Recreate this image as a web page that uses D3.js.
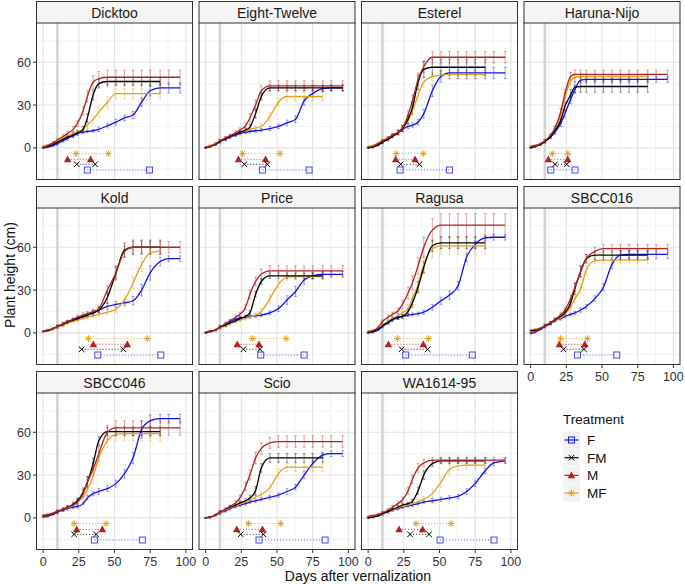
<!DOCTYPE html>
<html><head><meta charset="utf-8">
<script src="https://cdn.jsdelivr.net/npm/d3@7"></script>
<style>body{margin:0;background:#fff}svg{display:block;font-family:"Liberation Sans",Arial,sans-serif}</style>
</head><body><svg id="c" width="685" height="584"></svg>
<script>
// ---------- DATA ----------
const cultivars = ["Dicktoo","Eight-Twelve","Esterel","Haruna-Nijo","Kold","Price","Ragusa","SBCC016","SBCC046","Scio","WA1614-95"];
const treatments = ["F","FM","M","MF"];
const days = [0,3,7,10,14,17,21,24,28,31,35,39,45,51,57,63,69,75,82,88,96];
const xTicks = [0,25,50,75,100];
const yTicks = [0,30,60];
const vernalizationDay = 10;

const heightM = [
 [0.5,1.5,3.5,5.5,8,10,13,17,26,36,46,48.5,49.5,49.5,49.5,49.5,49.5,49.5,49.5,49.5,49.5],
 [0.5,1,3,5,7,8.5,10.5,12.5,15.5,21,30,40,43.5,43.5,43.5,43.5,43.5,43.5,43.5,43.5,43.5],
 [0.5,1,3,5,7,9,11,14,23,33,48,57,63.5,63.5,63.5,63.5,63.5,63.5,63.5,63.5,63.5],
 [1,1.5,3,5,9,14,25,38,50,51.5,51.5,51.5,51.5,51.5,51.5,51.5,51.5,51.5,51.5,51.5,51.5],
 [1,2,3,4.5,6.5,8,9.5,11,12.5,13.5,15,17,30,42,57,60,60,60,60,60,60],
 [0.5,1,2,4,6.5,8.5,11,13,18,27,36,41,43.5,43.5,43.5,43.5,43.5,43.5,43.5,43.5,43.5],
 [1,1.5,4,8,11,13,15.5,20,28,35,47,60,72,75.5,75.5,75.5,75.5,75.5,75.5,75.5,75.5],
 [0,1,3,5,7,9.5,12.5,16,24,32,43,52,57,59,59,59,59,59,59,59,59],
 [1,1.5,3,4.5,6,7.5,9,11,17,25,34,45,60,63,63,63,63,63,63,63,63],
 [0,0.5,2,4,6,8,10.5,14,22,30,42,48.5,52.5,53.5,53.5,53.5,53.5,53.5,53.5,53.5,53.5],
 [1,1.5,2.5,3.5,5.5,7.5,10,12.5,19,27,35,38.5,40.5,40.5,40.5,40.5,40.5,40.5,40.5,40.5,40.5]
];
const errM = [
 [0.3,0.5,1,1,1.5,1.5,2,2,3,4,4.5,5,5,5,5,5,5,5,5,5,5],
 [0.3,0.5,0.5,1,1,1,1.5,1.5,2,3,3.5,3.5,3.5,3.5,3.5,3.5,3.5,3.5,3.5,3.5,3.5],
 [0.3,0.5,0.5,1,1,1,1.5,2,3,4,4.5,4,4,4,4,4,4,4,4,4,4],
 [0.3,0.5,0.5,1,1,1.5,2.5,3,3,3,3,3,3,3,3,3,3,3,3,3,3],
 [0.3,0.5,0.5,1,1,1,1,1.5,1.5,1.5,1.5,2,3,4,4,4,4,4,4,4,4],
 [0.3,0.5,0.5,1,1,1,1.5,1.5,2,3,3,3.5,3.5,3.5,3.5,3.5,3.5,3.5,3.5,3.5,3.5],
 [0.3,0.5,1,1,1.5,1.5,2,3,4,5,6,7,8,8,8,8,8,8,8,8,8],
 [0.3,0.5,0.5,1,1,1,1.5,2,2.5,3,3.5,3,3,3,3,3,3,3,3,3,3],
 [0.3,0.5,0.5,1,1,1,1.5,2,3,4,5,5,5,5,5,5,5,5,5,5,5],
 [0.3,0.5,0.5,1,1,1,1.5,2,3,3.5,4,4,4,4,4,4,4,4,4,4,4],
 [0.3,0.5,0.5,1,1,1,1.5,2,2.5,3,3,2.5,2,2,2,2,2,2,2,2,2]
];
const heightFM = [
 [0,1,2.5,4,6,7.5,9,10.5,13,21,37,45,46.5,46.5,46.5,46.5,46.5,46.5,46.5,null,null],
 [0,1,2.5,4.5,6.5,8,9.5,11,12.5,14.5,24,36,42,42,42,42,42,42,42,42,42],
 [0,0.5,2,4,6,8,10.5,13.5,20,28,46,55,56.5,56.5,56.5,56.5,56.5,56.5,56.5,null,null],
 [0,1,2.5,4.5,8,12,19,29,37,42.5,43,43,43,43,43,43,43,43,43,null,null],
 [1,1.5,3,4.5,6,7.5,9,10,11.5,12.5,14,16,25,42,58,60,60,60,60,null,null],
 [0,1,2,4,5.5,7,8.5,10,11.5,14,27,36,40,40,40,40,40,40,40,null,null],
 [0,1,2.5,5,7.5,9.5,11,11.5,15,21,32,46,61,63,63,63,63,63,63,null,null],
 [1.5,2,3,5,7,9,11.5,14,21,31,43,52,54.5,54.5,54.5,54.5,54.5,54.5,54.5,null,null],
 [1.5,2,3,4.5,6,7.5,9.5,12,18,25,38,54,60.5,60.5,60.5,60.5,60.5,60.5,60.5,null,null],
 [0,0.5,2,4,6,7.5,9,10.5,12,14,19,35,42,42,42,42,42,42,42,null,null],
 [0,0.5,1.5,3,4.5,6,7.5,9,10,11.5,19,30,38,40,40,40,40,40,40,null,null]
];
const errFM = [
 [0.3,0.5,0.5,1,1,1,1.5,1.5,2,3,3.5,3,3,3,3,3,3,3,3,null,null],
 [0.3,0.5,0.5,1,1,1,1,1,1.5,2,3,2.5,2,2,2,2,2,2,2,2,2],
 [0.3,0.5,0.5,1,1,1,1.5,2,3,4,5,5.5,5.5,5.5,5.5,5.5,5.5,5.5,5.5,null,null],
 [0.3,0.5,0.5,1,1,1.5,2,3,4,4,4,4,4,4,4,4,4,4,4,null,null],
 [0.3,0.5,0.5,1,1,1,1,1,1,1.5,1.5,2,4,5,5,5,5,5,5,null,null],
 [0.3,0.5,0.5,1,1,1,1,1,1,1.5,2,2,2,2,2,2,2,2,2,null,null],
 [0.3,0.5,0.5,1,1,1,1.5,1.5,2,3,4,4,4,4,4,4,4,4,4,null,null],
 [0.3,0.5,0.5,1,1,1,1.5,2,3,4,4,3,3,3,3,3,3,3,3,null,null],
 [0.3,0.5,0.5,1,1,1,1.5,2,3,4,4,3,3,3,3,3,3,3,3,null,null],
 [0.3,0.5,0.5,1,1,1,1,1,1.5,2,3,3,3,3,3,3,3,3,3,null,null],
 [0.3,0.5,0.5,1,1,1,1,1,1,1.5,2.5,3,2,2,2,2,2,2,2,null,null]
];
const heightMF = [
 [1.5,2,3.5,5,7,8.5,10,11,13,16,20,25,32,38,38,38,38,38,38,null,null],
 [0.5,1.5,3,5,6.5,8,9.5,11,12,13,14,15,22,32,36,36,36,36,36,null,null],
 [1,1.5,3.5,5,7,9,11,13.5,19,26,37,46,50,51,51.5,51.5,51.5,51.5,51.5,null,null],
 [1,1.5,3,5,8.5,13,22,35,47,49.5,50,50,50,50,50,50,50,50,50,null,null],
 [1,1.5,2.5,4,5.5,7,8,9,10,11,12,13,14.5,16.5,23,35,48,56,57.5,null,null],
 [0,1,2,3.5,5,6.5,8,9,10,11,12.5,15,24,34,39,39.5,39.5,39.5,39.5,null,null],
 [1,1.5,3,5.5,8,10,12,14,17,24,34,48,59,61,61,61,61,61,61,null,null],
 [2,2.5,3.5,5,7,8.5,10.5,13,18,24,31,44,50.5,51,51,51,51,51,51,null,null],
 [2,2.5,3.5,4.5,6,7,8.5,11,15,20,29,42,54,58.5,59,59,59,59,59,null,null],
 [0,0.5,2,3.5,5.5,7,8.5,9.5,11,12.5,14.5,16.5,21,31,35.5,35.5,35.5,35.5,35.5,null,null],
 [0.5,1,2,3,4.5,5.5,7,8,9,10,11.5,13,17,25,34,36.5,37,37,37,null,null]
];
const errMF = [
 [0.3,0.5,1,1,1,1.5,1.5,2,2,2.5,3,3.5,4,3.5,3.5,3.5,3.5,3.5,3.5,null,null],
 [0.3,0.5,0.5,1,1,1,1,1,1,1.5,1.5,2,3,3,3,3,3,3,3,null,null],
 [0.3,0.5,0.5,1,1,1,1.5,2,3,3.5,4,3.5,3,3,3,3,3,3,3,null,null],
 [0.3,0.5,0.5,1,1,1.5,2,3,3,2.5,2,2,2,2,2,2,2,2,2,null,null],
 [0.3,0.5,0.5,1,1,1,1,1,1,1,1,1.5,1.5,2,3,4,5,3,2,null,null],
 [0.3,0.5,0.5,1,1,1,1,1,1,1,1.5,2,3,2.5,2,2,2,2,2,null,null],
 [0.3,0.5,0.5,1,1,1,1.5,2,3,4,5,6,6,6,6,6,6,6,6,null,null],
 [0.3,0.5,0.5,1,1,1,1.5,2,2.5,3,3.5,3,2,2,2,2,2,2,2,null,null],
 [0.3,0.5,0.5,1,1,1,1.5,2,3,4,5,5,5,5,5,5,5,5,5,null,null],
 [0.3,0.5,0.5,1,1,1,1,1,1,1.5,1.5,2,3,3.5,3,3,3,3,3,null,null],
 [0.3,0.5,0.5,1,1,1,1,1,1,1,1.5,2,3,3.5,3,3,3,3,3,null,null]
];
const heightF = [
 [0,0.5,1.5,3,5,6.5,8.5,10,11,11.5,12,13,15.5,18,21,23,32,40,42,42,42],
 [0,1,2.5,4.5,6,7.5,9,10,11,11.5,12,12.5,13.5,15,17.5,20,33,38,41.5,42,42],
 [0,0.5,2,4,6.5,8.5,11,13,15,16,18,24,40,50,52.5,52.5,52.5,52.5,52.5,52.5,52.5],
 [0,1,2.5,4.5,7.5,11,17,24,34,41,47.5,48,48,48,48,48,48,48,48,48,48],
 [1,1.5,3,4.5,6,7.5,9,10,11.5,12.5,14,16,18.5,20,21,22.5,30,42,50,52,52],
 [0,1,2,4,6,8,9.5,10.5,11,11.5,12,12.5,14,17,23,29,37,40,41,41,41],
 [0,0.5,2,4.5,7,9,10.5,11.5,12.5,13,13.5,14.5,18,22.5,26.5,33,53,62,66.5,67,67],
 [-0.5,0.5,2.5,4.5,6.5,8.5,10,11.5,13,14,16,18.5,24,32,48,54.5,55,55,55,55,55],
 [0.5,1,2.5,4,5.5,6.5,7.5,8,10,14,17,18.5,20.5,24,31,42,62,68,69.5,69.5,69.5],
 [0,0.5,2,3.5,5,6.5,8,9,10,11,12,13,14.5,16,18.5,21.5,30,38,44,45,45],
 [0,0.5,1.5,3,4.5,5.5,6.5,7.5,8.5,9,10,11,12,13,14,15,18.5,24,33,38.5,40]
];
const errF = [
 [0.3,0.5,0.5,1,1,1,1,1,1,1,1,1.5,1.5,2,2,2.5,3,3.5,3.5,3.5,3.5],
 [0.3,0.5,0.5,1,1,1,1,1,1,1,1,1,1.5,1.5,2,2.5,3,2.5,2,2,2],
 [0.3,0.5,0.5,1,1,1,1.5,1.5,1.5,1.5,2,3,4,4,4,4,4,4,4,4,4],
 [0.3,0.5,0.5,1,1,1.5,2,2.5,3,2.5,2,2,2,2,2,2,2,2,2,2,2],
 [0.3,0.5,0.5,1,1,1,1,1,1,1,1.5,1.5,2,2,2,3,4,5,3,2,2],
 [0.3,0.5,0.5,1,1,1,1,1,1,1,1,1,1.5,2,3,3.5,3,2,2,2,2],
 [0.3,0.5,0.5,1,1,1,1,1,1,1,1,1.5,2,2.5,3,3,3,2.5,2,2,2],
 [0.3,0.5,0.5,1,1,1,1,1,1,1,1.5,1.5,2,2.5,3,3,3,3,3,3,3],
 [0.3,0.5,0.5,1,1,1,1,1,1,1.5,1.5,2,2,2.5,3,4,6,4,3,3,3],
 [0.3,0.5,0.5,1,1,1,1,1,1,1,1,1,1.5,1.5,2,2,2.5,2.5,2,2,2],
 [0.3,0.5,0.5,1,1,1,1,1,1,1,1,1,1.5,1.5,1.5,1.5,2,2,2,2,2]
];
// phenology stage intervals [start day, end day]
const phenoF  = [[31,74.5],[39.8,72.5],[22.4,57],[14.1,31.1],[38.3,82.4],[38.6,69],[26.3,73],[32.8,60.3],[35.9,69.5],[37.4,83.7],[50.4,88.2]];
const phenoFM = [[23.5,36.4],[27.1,43.3],[22.8,35.9],[17.1,25.3],[27,56.2],[26.5,38.1],[23.5,41.7],[23,37.4],[21.7,37.1],[24.6,40.5],[29.4,42.7]];
const phenoM  = [[17.2,33.3],[23,42],[19.3,32.9],[12.4,26],[35.2,59],[22.2,37.4],[14.2,38.7],[20.1,38],[23.5,41.5],[21.8,39.8],[21.7,38.2]];
const phenoMF = [[23.1,45.7],[25.8,52.1],[19.6,38.7],[15.2,26],[31.7,73],[32.7,56.4],[20.5,42.2],[21,39.8],[21.7,44.1],[30,52.6],[33.6,58.1]];

// ---------- STYLE ----------
const colors = {F:"#1010F0", FM:"#000000", M:"#B22222", MF:"#E0A21E"};
const phenoLevel = {MF:-4, M:-8, FM:-11.5, F:-15.5};
const heights = {F:heightF, FM:heightFM, M:heightM, MF:heightMF};
const errs = {F:errF, FM:errFM, M:errM, MF:errMF};
const phenos = {F:phenoF, FM:phenoFM, M:phenoM, MF:phenoMF};

const W = 157, PH = 157, SH = 22;
const colX = c => 36 + c*162.5;
const rowY = r => 1 + r*185;

const svg = d3.select("#c");
const x = d3.scaleLinear().domain([-5,105]).range([0,W]);
const y = d3.scaleLinear().domain([-22.5,87.5]).range([PH,0]);

function marker(g, t, cx, cy, col) {
  if (t === "F") {
    g.append("rect").attr("x",cx-3).attr("y",cy-3).attr("width",6).attr("height",6)
      .attr("fill","none").attr("stroke",col).attr("stroke-width",1);
  } else if (t === "FM") {
    const s = 2.8;
    g.append("path").attr("d",`M${cx-s},${cy-s}L${cx+s},${cy+s}M${cx-s},${cy+s}L${cx+s},${cy-s}`)
      .attr("stroke",col).attr("stroke-width",1).attr("fill","none");
  } else if (t === "M") {
    const s = 3.8;
    g.append("path").attr("d",`M${cx},${cy-s}L${cx+s},${cy+s*0.75}L${cx-s},${cy+s*0.75}Z`).attr("fill",col);
  } else {
    const s = 3.4, d = s*0.72;
    g.append("path").attr("d",`M${cx-s},${cy}L${cx+s},${cy}M${cx},${cy-s}L${cx},${cy+s}M${cx-d},${cy-d}L${cx+d},${cy+d}M${cx-d},${cy+d}L${cx+d},${cy-d}`)
      .attr("stroke",col).attr("stroke-width",1).attr("fill","none");
  }
}

cultivars.forEach((name, i) => {
  const r = Math.floor(i/4), c = i % 4;
  const px = colX(c), top = rowY(r);
  // strip
  svg.append("rect").attr("x",px+0.5).attr("y",top+0.5).attr("width",W-1).attr("height",SH)
    .attr("fill","#F5F5F5").attr("stroke","#333").attr("stroke-width",1);
  svg.append("text").attr("x",px+W/2).attr("y",top+SH/2+5.5).attr("text-anchor","middle")
    .attr("font-size",14).attr("fill","#1a1a1a").text(name);
  const g = svg.append("g").attr("transform",`translate(${px},${top+SH})`);
  g.append("rect").attr("width",W).attr("height",PH).attr("fill","#fff");
  // grid
  const minorX = [12.5,37.5,62.5,87.5], minorY = [-15,15,45,75];
  minorX.forEach(v => g.append("line").attr("x1",x(v)).attr("x2",x(v)).attr("y1",0).attr("y2",PH).attr("stroke","#EBEBEB").attr("stroke-width",0.6));
  minorY.forEach(v => g.append("line").attr("y1",y(v)).attr("y2",y(v)).attr("x1",0).attr("x2",W).attr("stroke","#EBEBEB").attr("stroke-width",0.6));
  xTicks.forEach(v => g.append("line").attr("x1",x(v)).attr("x2",x(v)).attr("y1",0).attr("y2",PH).attr("stroke","#E3E3E3").attr("stroke-width",1.1));
  yTicks.forEach(v => g.append("line").attr("y1",y(v)).attr("y2",y(v)).attr("x1",0).attr("x2",W).attr("stroke","#E3E3E3").attr("stroke-width",1.1));
  // vernalization line
  g.append("line").attr("x1",x(vernalizationDay)).attr("x2",x(vernalizationDay)).attr("y1",0).attr("y2",PH)
    .attr("stroke","#D4D4D4").attr("stroke-width",2.6);

  const order = ["F","MF","FM","M"];
  order.forEach(t => {
    const hs = heights[t][i], es = errs[t][i];
    const pts = days.map((d,k) => ({d, h:hs[k], e:es[k]})).filter(p => p.h != null);
    const eb = g.append("g").attr("stroke",colors[t]).attr("stroke-opacity",0.45).attr("stroke-width",0.9);
    pts.forEach(p => {
      const xx = x(p.d), y1 = y(p.h - p.e), y2 = y(p.h + p.e);
      eb.append("path").attr("d",`M${xx},${y1}L${xx},${y2}M${xx-1.3},${y1}L${xx+1.3},${y1}M${xx-1.3},${y2}L${xx+1.3},${y2}`).attr("fill","none");
    });
  });
  order.forEach(t => {
    const hs = heights[t][i];
    const pts = days.map((d,k) => ({d, h:hs[k]})).filter(p => p.h != null);
    g.append("path").datum(pts)
      .attr("d", d3.line().x(p => x(p.d)).y(p => y(p.h)).curve(d3.curveMonotoneX))
      .attr("fill","none").attr("stroke",colors[t]).attr("stroke-width",1.3);
  });
  // phenology
  ["MF","M","FM","F"].forEach(t => {
    const [a,b] = phenos[t][i];
    const yy = y(phenoLevel[t]);
    const col = t === "F" ? "#4747F5" : colors[t];
    g.append("line").attr("x1",x(a)).attr("x2",x(b)).attr("y1",yy).attr("y2",yy)
      .attr("stroke",col).attr("stroke-width",1).attr("stroke-dasharray","1,2").attr("opacity",0.85);
    marker(g, t, x(a), yy, col);
    marker(g, t, x(b), yy, col);
  });
  // border
  g.append("rect").attr("x",0.5).attr("y",0).attr("width",W-1).attr("height",PH-0.5)
    .attr("fill","none").attr("stroke","#333").attr("stroke-width",1);

  // axes
  if (c === 0) {
    yTicks.forEach(v => {
      g.append("line").attr("x1",-3).attr("x2",0).attr("y1",y(v)).attr("y2",y(v)).attr("stroke","#333");
      g.append("text").attr("x",-5).attr("y",y(v)+4.5).attr("text-anchor","end").attr("font-size",12.5).attr("fill","#333").text(v);
    });
  }
  if (i >= 7) {
    xTicks.forEach(v => {
      g.append("line").attr("x1",x(v)).attr("x2",x(v)).attr("y1",PH).attr("y2",PH+3).attr("stroke","#333");
      g.append("text").attr("x",x(v)).attr("y",PH+15.5).attr("text-anchor","middle").attr("font-size",12.5).attr("fill","#333").text(v);
    });
  }
});

// axis titles
svg.append("text").attr("transform","translate(15,275) rotate(-90)").attr("text-anchor","middle")
  .attr("font-size",14).attr("fill","#111").text("Plant height (cm)");
svg.append("text").attr("x",358).attr("y",581).attr("text-anchor","middle")
  .attr("font-size",14).attr("fill","#111").text("Days after vernalization");

// legend
const lg = svg.append("g").attr("transform","translate(563,0)");
lg.append("text").attr("x",0).attr("y",424).attr("font-size",13.5).attr("fill","#111").text("Treatment");
treatments.forEach((t,k) => {
  const cy = 440 + k*17.7;
  lg.append("rect").attr("x",0).attr("y",cy-8.5).attr("width",17).attr("height",17).attr("fill","#F2F2F2");
  lg.append("line").attr("x1",1.5).attr("x2",15.5).attr("y1",cy).attr("y2",cy).attr("stroke",colors[t]).attr("stroke-width",1.2);
  marker(lg, t, 8.5, cy, colors[t]);
  lg.append("text").attr("x",24).attr("y",cy+4.8).attr("font-size",13.5).attr("fill","#111").text(t);
});
</script></body></html>
